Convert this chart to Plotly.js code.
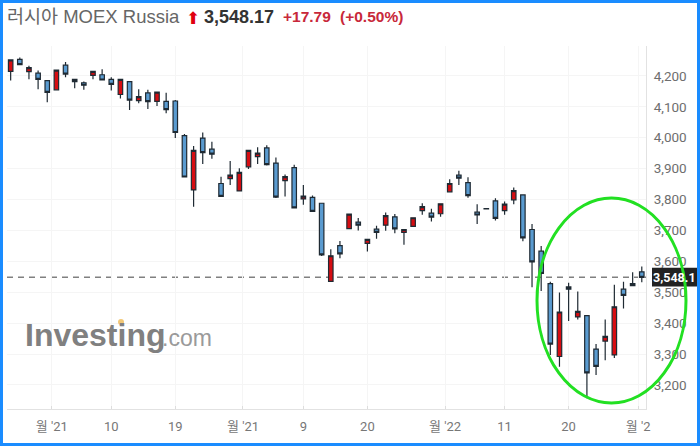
<!DOCTYPE html>
<html>
<head>
<meta charset="utf-8">
<script src="https://cdn.plot.ly/plotly-3.0.1.min.js"></script>
<style>
  html, body { margin: 0; padding: 0; background: #fff; overflow: hidden; }
  #myDiv { width: 700px; height: 446px; }
  #borda { position: fixed; left: 0; top: 0; width: 700px; height: 446px; box-sizing: border-box;
           border: 3px solid #1a8cff; pointer-events: none; }
</style>
</head>
<body>
<div id="myDiv"></div>
<div id="borda"></div>
<script>
let abertura = [4215,4254,4214,4209,4185,4155,4235,4189,4178,4202,4204,4189,4140,4182,4120,4145,4118,4118,4119,4007,
  3831,3999,3963,3852,3868,3828,3906,3939,3967,3918,3861,3903,3802,3807,3788,3535,3651,3706,3727,3658,
  3704,3717,3744,3694,3713,3764,3756,3754,3825,3879,3855,3759,3771,3796,3764,3799,3815,3703,3633,3528,
  3292,3517,3420,3424,3316,3342,3297,3510,3521,3566];
let maximo = [4254,4260,4233,4218,4187,4220,4245,4190,4182,4217,4222,4196,4190,4184,4157,4155,4149,4146,4122,4012,
  3973,4017,3987,3874,3925,3901,3960,3969,3976,3936,3881,3913,3847,3813,3790,3639,3666,3755,3740,3673,
  3715,3758,3753,3704,3742,3788,3770,3788,3866,3893,3872,3785,3771,3804,3794,3839,3817,3721,3650,3534,
  3499,3531,3502,3426,3332,3412,3524,3534,3565,3583];
let minimo = [4185,4235,4189,4157,4115,4153,4196,4160,4155,4189,4185,4153,4127,4090,4112,4093,4103,4079,3999,3872,
  3777,3915,3932,3809,3847,3827,3899,3915,3910,3805,3810,3772,3783,3760,3617,3534,3610,3704,3700,3632,
  3673,3699,3691,3654,3712,3751,3729,3744,3823,3847,3806,3721,3770,3732,3751,3785,3665,3516,3504,3297,
  3259,3407,3412,3157,3232,3280,3287,3447,3520,3532];
let fechamento = [4252,4237,4227,4189,4147,4219,4206,4182,4170,4215,4187,4173,4189,4122,4133,4117,4148,4091,4017,3873,
  3959,3952,3947,3810,3879,3888,3959,3950,3913,3808,3874,3773,3811,3762,3621,3618,3624,3753,3717,3671,
  3694,3748,3705,3703,3741,3777,3743,3786,3852,3869,3813,3750,3770,3739,3785,3829,3676,3598,3561,3332,
  3436,3510,3438,3239,3260,3357,3453,3490,3528,3548.17];

let eixo_x_pos = [4.5, 11, 18, 25.4, 32, 39, 47.5, 54, 61, 68.6];
let eixo_x_txt = ["월 '21", "10", "19", "월 '21", "9", "20", "월 '22", "11", "20", "월 '2"];
let eixo_y_pos = [3200, 3300, 3400, 3500, 3600, 3700, 3800, 3900, 4000, 4100, 4200];

let ultimo_preco = 3548.17;

let indices = abertura.map((_, i) => i);
let fonte_cjk = "Roboto, 'Noto Sans CJK KR', sans-serif";
let fonte_arial = "'Liberation Sans', 'Noto Sans CJK KR', sans-serif";

// pixel da janela para paper (area do grafico: 7..646 / 46..409)
function px(x) { return (x - 7) / 639; }
function py(y) { return (409 - y) / 363; }

var trace1 = {
  type: 'candlestick',
  x: indices,
  open: abertura,
  high: maximo,
  low: minimo,
  close: fechamento,
  increasing: { line: { color: '#1f2a33', width: 1.2 }, fillcolor: '#d60d12' },
  decreasing: { line: { color: '#1f2a33', width: 1.2 }, fillcolor: '#5a9bd0' },
  hoverinfo: 'skip',
  showlegend: false
};

function texto(x, y, t, size, color, font, anchor) {
  return {
    xref: 'paper', yref: 'paper', x: px(x), y: py(y), text: t, showarrow: false,
    xanchor: anchor || 'left', yanchor: 'middle',
    font: { size: size, color: color, family: font || fonte_arial }
  };
}

var layout = {
  width: 700,
  height: 446,
  margin: { l: 7, r: 54, t: 46, b: 37, pad: 0 },
  paper_bgcolor: '#ffffff',
  plot_bgcolor: '#ffffff',
  showlegend: false,
  title: {
    text: '러시아 MOEX Russia',
    x: 7 / 700, xanchor: 'left', xref: 'container',
    y: 1 - 17 / 446, yanchor: 'middle', yref: 'container',
    font: { size: 18.5, color: '#666666', family: fonte_arial }
  },
  xaxis: {
    type: 'linear',
    range: [-0.4, 69.46],
    rangeslider: { visible: false },
    tickmode: 'array',
    tickvals: eixo_x_pos,
    ticktext: eixo_x_txt,
    tickfont: { size: 13, color: '#777777', family: fonte_cjk },
    ticks: 'inside', ticklen: 3, tickcolor: '#dddddd',
    ticklabelstandoff: 5,
    showgrid: true, gridcolor: '#f5f5f5', gridwidth: 1,
    showline: true, linecolor: '#e2e2e2', linewidth: 1,
    zeroline: false,
    automargin: false
  },
  yaxis: {
    side: 'right',
    range: [3122, 4297],
    tickmode: 'array',
    tickvals: eixo_y_pos,
    tickformat: ',d',
    tickfont: { size: 13.5, color: '#6e6e6e', family: fonte_cjk },
    ticks: '',
    ticklabelstandoff: 4,
    showgrid: true, gridcolor: '#f5f5f5', gridwidth: 1,
    showline: true, linecolor: '#e2e2e2', linewidth: 1,
    zeroline: false,
    automargin: false
  },
  shapes: [
    { type: 'line', layer: 'below', xref: 'paper', yref: 'y', x0: 0, x1: 1, y0: ultimo_preco, y1: ultimo_preco,
      line: { color: '#808080', width: 1.5, dash: '6px 5px' } },
    { type: 'rect', layer: 'above', xref: 'paper', yref: 'y', x0: px(652), x1: px(700), y0: ultimo_preco - 30, y1: ultimo_preco + 31,
      fillcolor: '#222222', line: { width: 0 } },
    { type: 'circle', layer: 'above', xref: 'paper', yref: 'paper', x0: px(537), x1: px(686), y0: py(403), y1: py(198),
      line: { color: '#22e022', width: 3 } },
    { type: 'circle', layer: 'above', xref: 'paper', yref: 'paper', x0: px(118), x1: px(124), y0: py(325), y1: py(319),
      fillcolor: '#f2c877', line: { width: 0 } }
  ],
  annotations: [
    texto(184, 18, '⬆', 17, '#e0000f', "'DejaVu Sans'"),
    texto(202, 17, '<b>3,548.17</b>', 18, '#333333'),
    texto(281, 17, '<b>+17.79</b>', 15.5, '#c8283a'),
    texto(338, 17, '<b>(+0.50%)</b>', 15.5, '#c8283a'),
    texto(651, 277, '<b>3,548.1</b>', 12.5, '#ffffff', fonte_cjk),
    texto(23, 335, '<b>Investing</b>', 32, '#808080'),
    texto(160, 338, '.com', 23, '#9a9a9a')
  ]
};

(function() {
  Plotly.newPlot('myDiv', [trace1], layout, { displayModeBar: false, staticPlot: true });
})();
</script>
</body>
</html>
